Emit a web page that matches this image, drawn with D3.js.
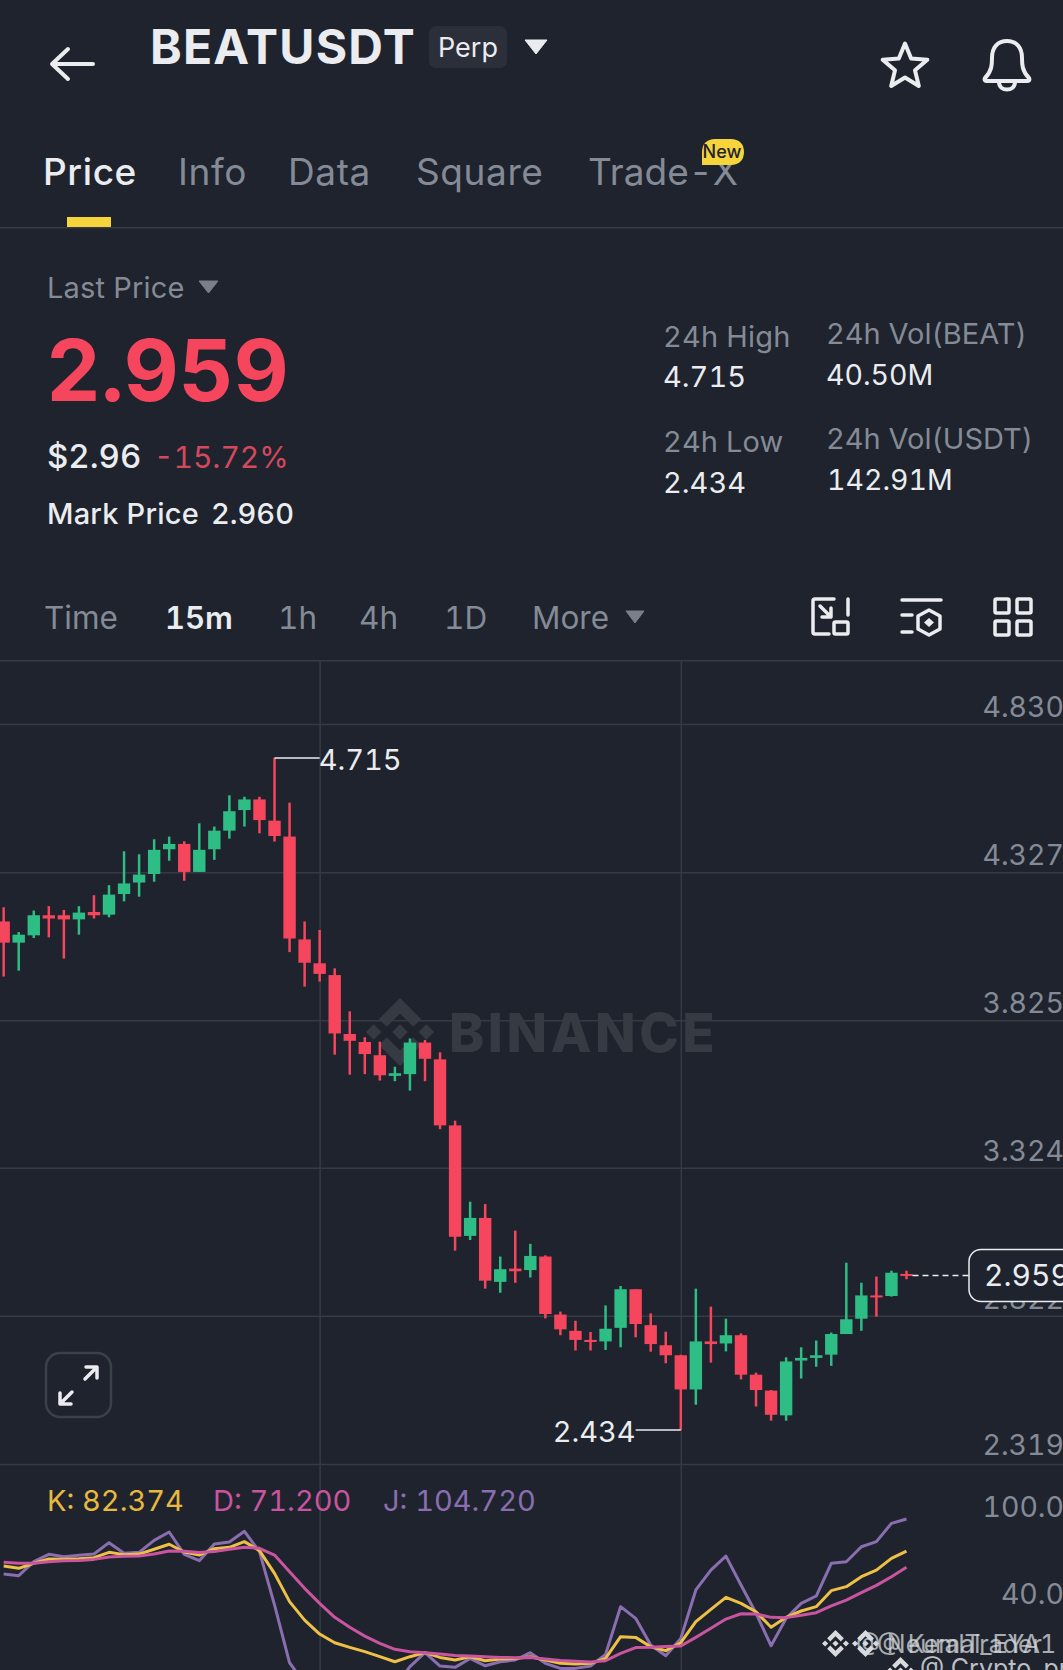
<!DOCTYPE html>
<html>
<head>
<meta charset="utf-8">
<title>BEATUSDT Perp</title>
<script src="https://cdn.jsdelivr.net/npm/d3@7"></script>
<style>
  html, body { margin: 0; padding: 0; background: #1e232d; }
  svg { display: block; font-family: Inter, "Noto Sans", sans-serif; font-variant-numeric: tabular-nums; font-feature-settings: "tnum" 1; }
</style>
</head>
<body>
<div id="viz"></div>
<script>
// 15m candles
const opens = [4.160,4.088,4.113,4.181,4.181,4.167,4.192,4.183,4.253,4.292,4.321,4.405,4.423,4.328,4.405,4.468,4.538,4.574,4.502,4.448,4.099,4.018,3.978,3.778,3.751,3.706,3.636,3.642,3.749,3.692,3.468,3.093,3.154,2.937,2.982,2.977,3.023,2.826,2.771,2.740,2.735,2.781,2.912,2.790,2.722,2.688,2.572,2.735,2.728,2.756,2.622,2.568,2.484,2.670,2.679,2.690,2.760,2.812,2.891,2.889,2.964];
const highs = [4.208,4.124,4.197,4.212,4.199,4.212,4.249,4.283,4.398,4.388,4.439,4.448,4.432,4.493,4.482,4.588,4.583,4.583,4.715,4.563,4.160,4.131,4.001,3.855,3.767,3.752,3.667,3.763,3.758,3.716,3.484,3.209,3.201,3.023,3.111,3.066,3.027,2.836,2.805,2.767,2.857,2.923,2.912,2.830,2.768,2.690,2.914,2.853,2.812,2.762,2.629,2.570,2.681,2.715,2.738,2.765,3.002,2.934,2.955,2.975,2.975];
const lows = [3.973,3.993,4.104,4.106,4.034,4.115,4.170,4.174,4.228,4.244,4.295,4.366,4.298,4.328,4.369,4.441,4.482,4.459,4.431,4.056,3.939,3.956,3.708,3.640,3.642,3.620,3.618,3.586,3.618,3.455,3.043,3.079,2.914,2.900,2.934,2.952,2.813,2.756,2.704,2.704,2.706,2.715,2.749,2.700,2.661,2.434,2.520,2.663,2.701,2.606,2.514,2.466,2.466,2.609,2.649,2.652,2.760,2.771,2.819,2.887,2.946];
const closes = [4.088,4.115,4.181,4.170,4.167,4.190,4.181,4.251,4.289,4.319,4.403,4.423,4.328,4.403,4.468,4.534,4.574,4.504,4.450,4.102,4.020,3.982,3.780,3.755,3.710,3.638,3.645,3.749,3.694,3.468,3.090,3.154,2.941,2.980,2.973,3.025,2.828,2.776,2.740,2.733,2.778,2.912,2.794,2.726,2.688,2.572,2.735,2.726,2.756,2.622,2.570,2.486,2.667,2.679,2.688,2.760,2.810,2.891,2.885,2.968,2.959];

// KDJ
const kValues = [72.1,70.5,74.0,77.0,76.8,77.2,77.9,81.6,80.0,80.4,83.7,87.2,81.8,79.7,84.1,85.1,89.0,82.8,67.0,47.4,34.6,24.9,18.9,15.7,12.7,9.2,5.7,9.2,12.0,8.7,6.9,9.2,6.4,7.6,8.0,9.2,6.9,4.6,4.1,4.6,8.0,23.1,22.6,16.1,13.4,18.9,33.5,42.0,50.4,46.2,40.4,29.6,36.5,40.9,43.9,55.0,57.8,64.7,69.3,77.4,82.374];
const dValues = [74.7,74.0,74.0,75.1,75.8,76.0,76.7,78.4,78.8,79.1,80.4,82.5,82.3,81.4,82.1,83.7,85.1,84.4,79.7,68.2,56.6,46.2,36.5,29.6,23.5,18.5,14.3,12.7,12.0,11.0,10.1,9.7,9.2,8.7,8.5,8.7,7.6,6.6,6.0,5.5,6.4,11.5,15.5,15.7,16.2,16.6,22.6,28.9,35.3,39.0,38.8,36.5,36.3,37.9,39.7,44.4,48.5,53.6,58.7,64.7,71.2];
const jValues = [66.6,65.4,75.1,80.2,78.6,79.5,80.4,88.3,80.9,81.6,89.9,95.7,80.2,75.8,87.4,88.8,96.2,82.1,45.1,5.0,-9.3,-17.6,-16.2,-12.1,-9.1,-9.3,-11.4,2.3,12.0,2.7,1.8,8.0,2.9,5.7,6.9,12.0,4.6,1.1,1.1,2.7,10.8,43.9,35.8,17.3,9.9,21.9,55.5,69.3,79.0,58.9,39.3,16.8,35.8,46.2,51.3,74.0,75.1,85.5,89.0,101.7,104.72];

const priceTicks = [4.830, 4.327, 3.825, 3.324, 2.822, 2.319];
const kdjTicks = [100, 40];
const gridCandles = [21, 45];

const tabs = ["Price", "Info", "Data", "Square", "Trade-X"];
const tabX = [43, 178, 288, 416, 588];
const intervals = ["Time", "15m", "1h", "4h", "1D", "More"];
const intervalX = [44, 165, 278, 359, 444, 532];

const width = 1063, height = 1670;
const BG = "#1e232d", RED = "#f6465d", GREEN = "#2ebd85", GREY = "#848b96", WHITE = "#eaecef", GRID = "#363a43";
const LOGO = "M38.171 53.203L62.759 28.616l24.6 24.6 14.306-14.306L62.759 0 23.864 38.896z M0 62.759l14.307-14.307 14.306 14.307-14.306 14.306z M38.171 72.316l24.588 24.588 24.6-24.6 14.313 14.3L62.759 125.52 23.864 86.624z M96.904 62.765l14.307-14.307 14.306 14.307-14.306 14.306z M77.276 62.758L62.759 77.275 48.242 62.758 62.759 48.241z";

const svg = d3.select("#viz").append("svg")
  .attr("width", width).attr("height", height).attr("viewBox", `0 0 ${width} ${height}`);
svg.append("rect").attr("width", width).attr("height", height).attr("fill", BG);

function label(txt, x, y, size, fill, weight, anchor) {
  return svg.append("text").attr("x", x).attr("y", y).text(txt)
    .attr("font-size", size).attr("fill", fill)
    .attr("font-weight", weight || 400).attr("text-anchor", anchor || "start");
}
function stroked(d, w, color) {
  return svg.append("path").attr("d", d).attr("fill", "none")
    .attr("stroke", color || WHITE).attr("stroke-width", w)
    .attr("stroke-linecap", "round").attr("stroke-linejoin", "round");
}
function triangle(x0, x1, y0, y1, color) {
  svg.append("path").attr("d", `M${x0} ${y0}H${x1}L${(x0 + x1) / 2} ${y1}Z`).attr("fill", color)
    .attr("stroke", color).attr("stroke-width", 1).attr("stroke-linejoin", "round");
}
function logo(x, y, size, color) {
  svg.append("path").attr("d", LOGO).attr("fill", color)
    .attr("transform", `translate(${x},${y}) scale(${size / 125.5})`);
}

// header
stroked("M53 64H93 M68 49L52 64L68 79", 4);
label("BEATUSDT", 150, 64, 48, WHITE, 700).attr("letter-spacing", 1.2);
svg.append("rect").attr("x", 429).attr("y", 26).attr("width", 78).attr("height", 42).attr("rx", 7).attr("fill", "#2a2f39");
label("Perp", 438, 57, 27, WHITE);
triangle(525, 547, 40, 54, WHITE);
const starPts = d3.range(10).map(i => {
  const r = i % 2 ? 10.5 : 23.5, a = i * Math.PI / 5;
  return [r * Math.sin(a), -r * Math.cos(a)];
});
stroked(d3.line().curve(d3.curveLinearClosed)(starPts), 4).attr("transform", "translate(905,67)");
stroked("M985 78C992 71 992 64 992 58C992 47 998 41 1007 41C1016 41 1022 47 1022 58C1022 64 1022 71 1029 78C1030 80 1029 81 1027 81H987C985 81 984 80 985 78Z M999 82C999 92 1015 92 1015 82", 4);

// tabs
tabs.forEach((t, i) => label(t, tabX[i], 185, 37, i === 0 ? WHITE : GREY, i === 0 ? 500 : 400).attr("letter-spacing", i === 4 ? 0 : 0.6));
svg.append("rect").attr("x", 67).attr("y", 217).attr("width", 44).attr("height", 10).attr("fill", "#f5d43c");
svg.append("rect").attr("y", 227).attr("width", width).attr("height", 1.5).attr("fill", GRID);
svg.append("path").attr("d", "M715 139H731C739 139 744 144 744 152C744 160 739 165 731 165H702V152C702 144 707 139 715 139Z").attr("fill", "#f5d43c");
label("New", 722, 158, 18, "#1e232d", 500, "middle");

// price block
label("Last Price", 47, 298, 29, GREY).attr("letter-spacing", 0.2);
triangle(199, 218, 281, 293, "#7b7f88");
label("2.959", 46, 401, 85, RED, 700);
label("$2.96", 47, 468, 33, WHITE, 500);
label("-15.72%", 154, 468, 30, "#d4485e", 400);
label("Mark Price", 47, 524, 29, WHITE, 500).attr("letter-spacing", 0.2);
label("2.960", 211, 524, 29, WHITE, 500);

label("24h High", 663, 347, 29, GREY).attr("letter-spacing", 0.2);
label("4.715", 663, 387, 29, WHITE);
label("24h Low", 663, 452, 29, GREY).attr("letter-spacing", 0.1);
label("2.434", 663, 493, 29, WHITE);
label("24h Vol(BEAT)", 826, 344, 29, GREY);
label("40.50M", 826, 385, 28.5, WHITE);
label("24h Vol(USDT)", 826, 449, 29, GREY);
label("142.91M", 827, 490, 28.5, WHITE);

// interval row
intervals.forEach((t, i) => label(t, intervalX[i], 629, i === 1 ? 31 : 31.5, i === 1 ? WHITE : GREY, i === 1 ? 600 : 400));
triangle(626, 644, 611, 623, "#7b7f88");
// toolbar icons
stroked("M834 599H815Q813 599 813 601V632Q813 634 815 634H829 M848 599V615 M820 606L831 617 M831 608V617H822", 3.5);
svg.append("rect").attr("x", 834).attr("y", 622).attr("width", 14).attr("height", 12).attr("rx", 1.5).attr("fill", "none").attr("stroke", WHITE).attr("stroke-width", 3.5);
stroked("M902 600H941 M902 615H912 M902 632H912 M929 610L940 616V629L929 635L918 629V616Z", 3.5);
svg.append("path").attr("d", "M929 618L934 622.5L929 627L924 622.5Z").attr("fill", WHITE);
[[995, 599], [1017, 599], [995, 621], [1017, 621]].forEach(p => {
  svg.append("rect").attr("x", p[0]).attr("y", p[1]).attr("width", 14).attr("height", 14).attr("rx", 1.5)
    .attr("fill", "none").attr("stroke", WHITE).attr("stroke-width", 3.5);
});

// chart scales
const x = d3.scaleLinear().domain([0, 60]).range([3.67, 906.5]);
const yPrice = d3.scaleLinear().domain([2.319, 4.830]).range([1464, 724]);
const yKdj = d3.scaleLinear().domain([40, 104.72]).range([1612.3, 1519]);

svg.append("rect").attr("y", 660).attr("width", width).attr("height", 1.5).attr("fill", GRID);

// grid + axes
const vGrid = svg.append("g").attr("transform", "translate(0,660)")
  .call(d3.axisBottom(x).tickValues(gridCandles).tickSize(1010).tickFormat(""));
vGrid.select(".domain").remove();
vGrid.selectAll("line").attr("stroke", GRID).attr("stroke-width", 1.5);

const priceAxis = svg.append("g")
  .call(d3.axisRight(yPrice).tickValues(priceTicks).tickSize(width).tickFormat(d3.format(".3f")));
priceAxis.select(".domain").remove();
priceAxis.selectAll("line").attr("stroke", GRID).attr("stroke-width", 1.5);
priceAxis.selectAll("text").attr("x", 1064).attr("dy", d => d === 2.319 ? -10 : -7.5).attr("text-anchor", "end")
  .attr("font-family", "Inter").attr("font-size", 28.5).attr("fill", GREY);

const kdjAxis = svg.append("g")
  .call(d3.axisRight(yKdj).tickValues(kdjTicks).tickSize(0).tickFormat(d3.format(".1f")));
kdjAxis.select(".domain").remove();
kdjAxis.selectAll("text").attr("x", 1064).attr("dy", -9).attr("text-anchor", "end")
  .attr("font-family", "Inter").attr("font-size", 28.5).attr("fill", GREY);

// watermark under the candles
logo(366, 998, 68, "#353a43");
label("BINANCE", 449, 1052, 53, "#353a43", 800).attr("letter-spacing", 3.6);

// candles
const candles = svg.append("g");
opens.forEach((o, i) => {
  const c = closes[i], col = c >= o ? GREEN : RED;
  candles.append("line")
    .attr("x1", x(i)).attr("x2", x(i))
    .attr("y1", yPrice(highs[i])).attr("y2", yPrice(lows[i]))
    .attr("stroke", col).attr("stroke-width", 2.5);
  candles.append("rect")
    .attr("x", x(i) - 6.2).attr("width", 12.4)
    .attr("y", yPrice(Math.max(o, c)))
    .attr("height", Math.max(2, Math.abs(yPrice(o) - yPrice(c))))
    .attr("fill", col);
});

// high / low tags
const hi = d3.max(highs), lo = d3.min(lows);
const hiIdx = highs.indexOf(hi), loIdx = lows.indexOf(lo);
svg.append("line").attr("x1", x(hiIdx)).attr("x2", x(21)).attr("y1", yPrice(hi)).attr("y2", yPrice(hi))
  .attr("stroke", WHITE).attr("stroke-width", 1.5);
label(hi.toFixed(3), x(21) - 1, yPrice(hi) + 12, 29, WHITE);
svg.append("line").attr("x1", x(loIdx)).attr("x2", x(42)).attr("y1", yPrice(lo)).attr("y2", yPrice(lo))
  .attr("stroke", WHITE).attr("stroke-width", 1.5);
label(lo.toFixed(3), x(42), yPrice(lo) + 12, 29, WHITE, 400, "end");

// last price tag
const last = closes[closes.length - 1];
svg.append("line").attr("x1", x(60) + 6).attr("x2", 969).attr("y1", yPrice(last)).attr("y2", yPrice(last))
  .attr("stroke", WHITE).attr("stroke-width", 1.5).attr("stroke-dasharray", "6 4");
svg.append("rect").attr("x", 969).attr("y", 1249.5).attr("width", 110).attr("height", 52).attr("rx", 12)
  .attr("fill", BG).attr("stroke", WHITE).attr("stroke-width", 1.5);
label(last.toFixed(3), 984, 1286, 30, WHITE);

// expand button
svg.append("rect").attr("x", 46).attr("y", 1353).attr("width", 65).attr("height", 64).attr("rx", 14)
  .attr("fill", "none").attr("stroke", "#3b4049").attr("stroke-width", 2.5);
stroked("M61 1403L72 1392 M85 1379L96 1368 M86 1367H97V1378 M60 1393V1404H71", 3.5);

// KDJ legend and lines
label("K: 82.374", 47, 1511, 29, "#e8b93f");
label("D: 71.200", 213, 1511, 29, "#c9549f");
label("J: 104.720", 383, 1511, 29, "#8a6eb0");

const kdjLine = d3.line().x((d, i) => x(i)).y(d => yKdj(d));
[[jValues, "#8a6eb0"], [kValues, "#eec046"], [dValues, "#c9549f"]].forEach(s => {
  svg.append("path").attr("d", kdjLine(s[0])).attr("fill", "none")
    .attr("stroke", s[1]).attr("stroke-width", 3).attr("stroke-linejoin", "round");
});

// reposter overlays
logo(822, 1630, 27, "#d8dade");
logo(852, 1630, 27, "#d8dade");
logo(887, 1657, 27, "#d8dade");
label("@ NeuralTrader", 856, 1653, 25, "#d8dade").attr("opacity", 0.75);
label("@ Kemal_EYA1", 877, 1653, 25, "#d8dade").attr("opacity", 0.75);
label("@ Crypto_pro", 920, 1677, 25, "#d8dade").attr("opacity", 0.85);
</script>
</body>
</html>
